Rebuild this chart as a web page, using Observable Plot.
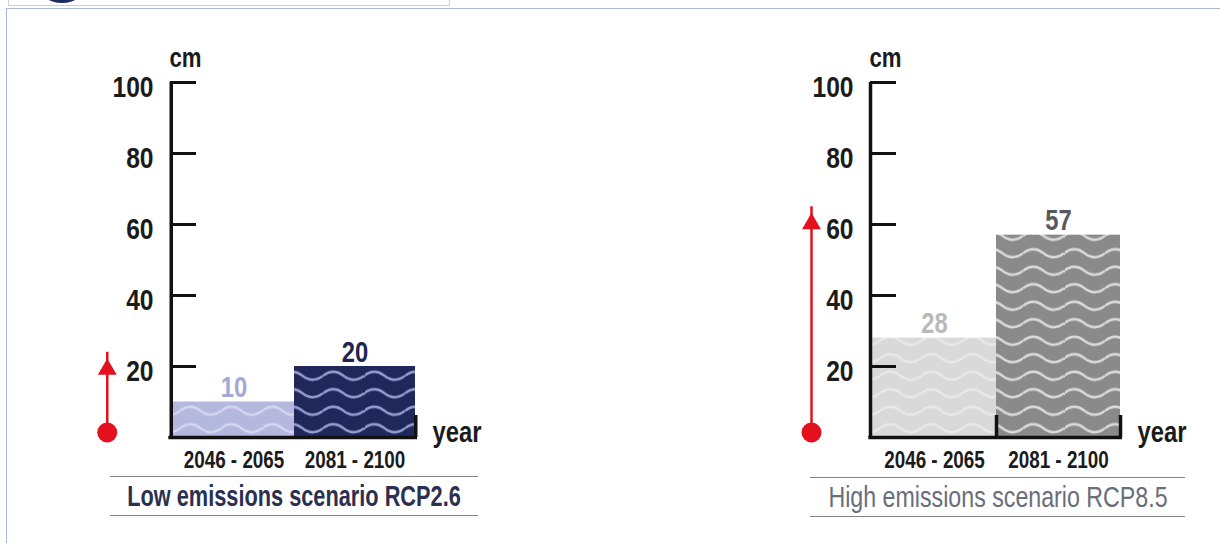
<!DOCTYPE html>
<html><head><meta charset="utf-8">
<script src="https://cdn.jsdelivr.net/npm/d3@7"></script>
<script src="https://cdn.jsdelivr.net/npm/@observablehq/plot@0.6"></script>
<style>
html,body{margin:0;padding:0;background:#fff;}
body{width:1220px;height:543px;overflow:hidden;position:relative;font-family:'Liberation Sans',Arial,sans-serif;}
.panel{position:absolute;top:0;}
.panel svg{overflow:visible;}
.caption{position:absolute;border-top:1.5px solid #80838c;border-bottom:1.5px solid #80838c;height:38px;line-height:38px;font-size:29px;white-space:nowrap;}
.caption span{position:absolute;left:50%;top:0;transform-origin:center;}
#frame{position:absolute;left:6px;top:8px;width:1220px;height:540px;border-top:1.5px solid #a9b8d8;border-left:1.5px solid #a9b8d8;}
#hdr{position:absolute;left:8px;top:-2px;width:440px;height:6px;border:1px solid #cfcfcf;background:#fff;overflow:hidden;}
#hdrdot{position:absolute;left:30px;top:-30px;width:46px;height:34px;border-radius:50%;background:#1f2b5c;}
</style></head><body>
<div id="frame"></div>
<div id="hdr"><div id="hdrdot"></div></div>
<div id="left" class="panel" style="left:0px"></div>
<div id="right" class="panel" style="left:600px"></div>
<div class="caption" style="left:110px;top:476px;width:368px;color:#2b3050;font-weight:bold;"><span style="transform:translateX(-50%) scaleX(0.75)">Low emissions scenario RCP2.6</span></div>
<div class="caption" style="left:810px;top:477px;width:375px;color:#686e7a;"><span style="transform:translateX(-50%) scaleX(0.80)">High emissions scenario RCP8.5</span></div>
<script>
// ---- data ----
const categories = ["2046 - 2065", "2081 - 2100"];
const lowValues = [10, 20];
const highValues = [28, 57];
const yTicks = [20, 40, 60, 80, 100];
const arrowTops = [24, 65]; // tip of red arrows (cm), estimated
const unitLabel = "cm";
const xLabel = "year";

const FONT = "'Liberation Sans',Arial,sans-serif";
const RED = "#e3101e";
const NARROW = 0.82; // emulate the condensed typeface

function makePanel(o) {
  const H = 475, MT = 82, MB = 38;
  const innerW = o.width - o.marginLeft - o.marginRight;
  const bw = innerW / categories.length;
  const innerH = H - MT - MB;
  const rows = categories.map((c, i) => ({cat: c, value: o.values[i], pat: `url(#${o.id}p${i})`, label: o.labelColors[i]}));
  const arrowDx = o.arrowX - (o.marginLeft + bw / 2);
  const defs = () => {
    const d = d3.create("svg:defs");
    o.patterns.forEach((p, i) => {
      const pat = d.append("pattern").attr("id", `${o.id}p${i}`).attr("patternUnits", "userSpaceOnUse")
        .attr("width", 41).attr("height", 17.5).attr("x", o.marginLeft + 8 + i * 20).attr("y", H - MB);
      pat.append("rect").attr("width", 41).attr("height", 17.5).attr("fill", p.base);
      pat.append("path").attr("d", "M0,8.75 Q10.25,0.75 20.5,8.75 T41,8.75")
        .attr("fill", "none").attr("stroke", p.wave).attr("stroke-width", 2.4);
    });
    return d.node();
  };
  return Plot.plot({
    width: o.width, height: H,
    marginLeft: o.marginLeft, marginRight: o.marginRight, marginTop: MT, marginBottom: MB,
    style: {fontFamily: FONT, background: "transparent"},
    x: {domain: categories, padding: 0},
    y: {domain: [0, 100]},
    color: {type: "identity"},
    marks: [
      defs,
      Plot.barY(rows, {x: "cat", y: "value", fill: "pat"}),
      Plot.text(rows, {x: "cat", y: "value", text: d => String(d.value), fill: "label", lineAnchor: "bottom", dy: -5, fontSize: 29, fontWeight: "bold"}),
      // axis lines
      Plot.ruleX([categories[0]], {y1: 0, y2: 100, dx: -bw / 2 - 2, stroke: "#111", strokeWidth: 3.5}),
      Plot.ruleY([0], {stroke: "#111", strokeWidth: 3.5, insetLeft: -3.7, insetRight: -2}),
      Plot.ruleY(yTicks, {stroke: "#111", strokeWidth: 3, insetLeft: -2, insetRight: innerW - 24}),
      Plot.ruleX(o.endTicks, {dx: bw / 2, stroke: "#111", strokeWidth: 3.5, insetTop: innerH - 22}),
      Plot.axisY(yTicks, {tickSize: 0, tickPadding: 19, fontSize: 30, fontWeight: "bold", fill: "#1b1b1b", dy: 5, label: null}),
      Plot.axisX({tickSize: 0, tickPadding: 14, fontSize: 23, fontWeight: "bold", fill: "#1b1b1b", label: null}),
      Plot.text([unitLabel], {frameAnchor: "top-left", textAnchor: "middle", lineAnchor: "middle", dx: 13, dy: -24, text: d => d, fontSize: 27, fontWeight: "bold", fill: "#1b1b1b"}),
      Plot.text([xLabel], {frameAnchor: "bottom-right", textAnchor: "start", lineAnchor: "middle", dx: 17, dy: -5, text: d => d, fontSize: 29, fontWeight: "bold", fill: "#1b1b1b"}),
      // red arrow
      Plot.ruleX([o.arrowTop], {x: () => categories[0], y1: 0, y2: d => d, dx: arrowDx, stroke: RED, strokeWidth: 2.5}),
      Plot.dot([0], {x: () => categories[0], y: d => d, dx: arrowDx, dy: -5, r: 10, fill: RED}),
      Plot.dot([o.arrowTop], {x: () => categories[0], y: d => d, dx: arrowDx, dy: 17, r: 7, symbol: "triangle", fill: RED})
    ]
  });
}

function narrow(svg) {
  svg.querySelectorAll("text").forEach(t => {
    const L = t.getComputedTextLength();
    if (L > 0) {
      t.setAttribute("textLength", (L * NARROW).toFixed(2));
      t.setAttribute("lengthAdjust", "spacingAndGlyphs");
    }
  });
}

const left = makePanel({
  id: "L", values: lowValues, width: 600, marginLeft: 172, marginRight: 185, arrowX: 106, arrowTop: arrowTops[0],
  patterns: [{base: "#b4b7de", wave: "#d4d6f0"}, {base: "#1f2858", wave: "#959bd0"}],
  labelColors: ["#a4a8d7", "#1f2550"],
  endTicks: [categories[1]]
});
document.getElementById("left").append(left);
narrow(left);
const right = makePanel({
  id: "R", values: highValues, width: 620, marginLeft: 272, marginRight: 100, arrowX: 211, arrowTop: arrowTops[1],
  patterns: [{base: "#d9d9d9", wave: "#e8e8e8"}, {base: "#8a8a8a", wave: "#dadada"}],
  labelColors: ["#b9b9b9", "#555a60"],
  endTicks: categories
});
document.getElementById("right").append(right);
narrow(right);
</script>
</body></html>
